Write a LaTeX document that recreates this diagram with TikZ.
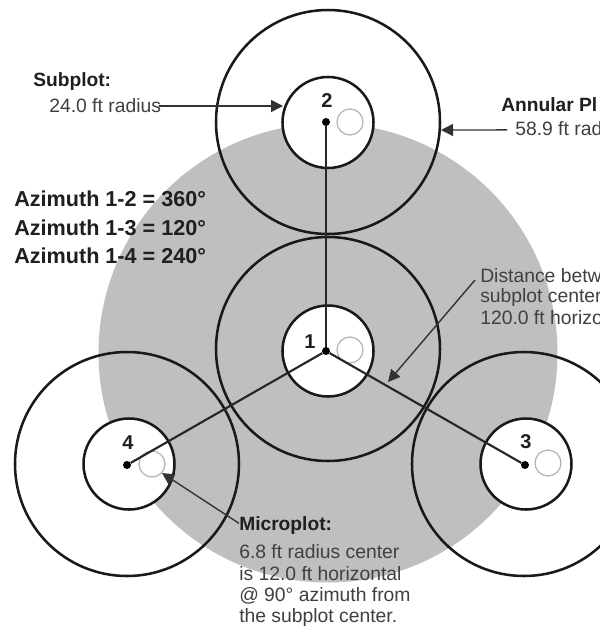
\documentclass[tikz,border=0pt]{standalone}
\usepackage{fontspec}
\setmainfont{Liberation Sans}
\usetikzlibrary{arrows.meta}
\definecolor{plotgray}{gray}{0.75}
\definecolor{txt}{gray}{0.25}
\definecolor{bold}{gray}{0.12}
\tikzset{
  x=0.75pt,y=-0.75pt,
  ring/.style={draw=black!90,line width=1.9pt},
  conn/.style={draw=black!85,line width=1.6pt},
  lead/.style={draw=black!80,line width=1.05pt,-{Triangle[length=9pt,width=9pt]}},
  micro/.style={circle,draw=black!30,line width=0.9pt,fill=white,minimum size=19.5pt,inner sep=0pt},
  dotn/.style={circle,fill=black,minimum size=6pt,inner sep=0pt},
  num/.style={font=\bfseries\fontsize{15pt}{15pt}\selectfont,text=bold,inner sep=0pt},
  head/.style={font=\bfseries\fontsize{14.4pt}{16pt}\selectfont,text=bold,anchor=west,inner sep=0pt},
  azi/.style={font=\bfseries\fontsize{16.2pt}{18pt}\selectfont,text=bold,anchor=west,inner sep=0pt},
  body/.style={font=\fontsize{14.5pt}{16pt}\selectfont,text=txt,anchor=west,inner sep=0pt},
}
\begin{document}
\begin{tikzpicture}
\useasboundingbox (0,0) rectangle (600,626);
\fill[white] (0,0) rectangle (600,626);
\fill[plotgray] (328,353) circle[radius=229.5];
% annular rings
\draw[ring] (328,122) circle[radius=112];
\draw[ring] (328,349) circle[radius=112];
\draw[ring] (127,464) circle[radius=112];
\draw[ring] (524,464) circle[radius=112];
% subplots, microplots, centres
\foreach \n/\x/\y/\mx/\my/\dx/\dy in {2/328/122.5/350/122/326/122,1/328/351/350/350/326/351,4/129/464/152/464/127/465,3/526/464/548/463/525/465}{
  \draw[ring,fill=white] (\x,\y) circle[radius=45.5];
  \node[micro] (m\n) at (\mx,\my) {};
  \node[dotn] (c\n) at (\dx,\dy) {};
}
\draw[conn] (c1) -- (c2);
\draw[conn] (c1) -- (c3);
\draw[conn] (c1) -- (c4);
\node[num] at (327,101) {2};
\node[num] at (310,342) {1};
\node[num] at (128,443) {4};
\node[num] at (526,442) {3};
\node[head] (sub) at (33,82) {Subplot:};
\node[body] (subr) at (49,106) {24.0 ft radius};
\coordinate (subt) at (283,106);
\draw[lead] ([xshift=-2pt]subr.east) -- (subt);
\node[head] at (501,105) {Annular Pl};
\node[body] (annr) at (515,129) {58.9 ft rad};
\coordinate (annt) at (441,130);
\draw[lead] ([xshift=-6pt,yshift=-0.7pt]annr.west) -- (annt);
\node[azi] at (14,199) {Azimuth 1-2 = 360°};
\node[azi] at (14,228) {Azimuth 1-3 = 120°};
\node[azi] at (14,256) {Azimuth 1-4 = 240°};
\node[body] (d1) at (480,276) {Distance betw};
\node[body] at (480,297) {subplot center};
\node[body] at (480,318) {120.0 ft horizo};
\coordinate (dj) at (475,280);
\coordinate (dt) at (388,382);
\draw[lead] (dj) -- (dt);
\node[head] (mp) at (239,526) {Microplot:};
\node[body] at (239,552) {6.8 ft radius center};
\node[body] at (239,574) {is 12.0 ft horizontal};
\node[body] at (239,596) {@ 90° azimuth from};
\node[body] at (239,617) {the subplot center.};
\coordinate (mt) at (162,473);
\draw[lead] ([yshift=2pt]mp.west) -- (mt);
\end{tikzpicture}
\end{document}
